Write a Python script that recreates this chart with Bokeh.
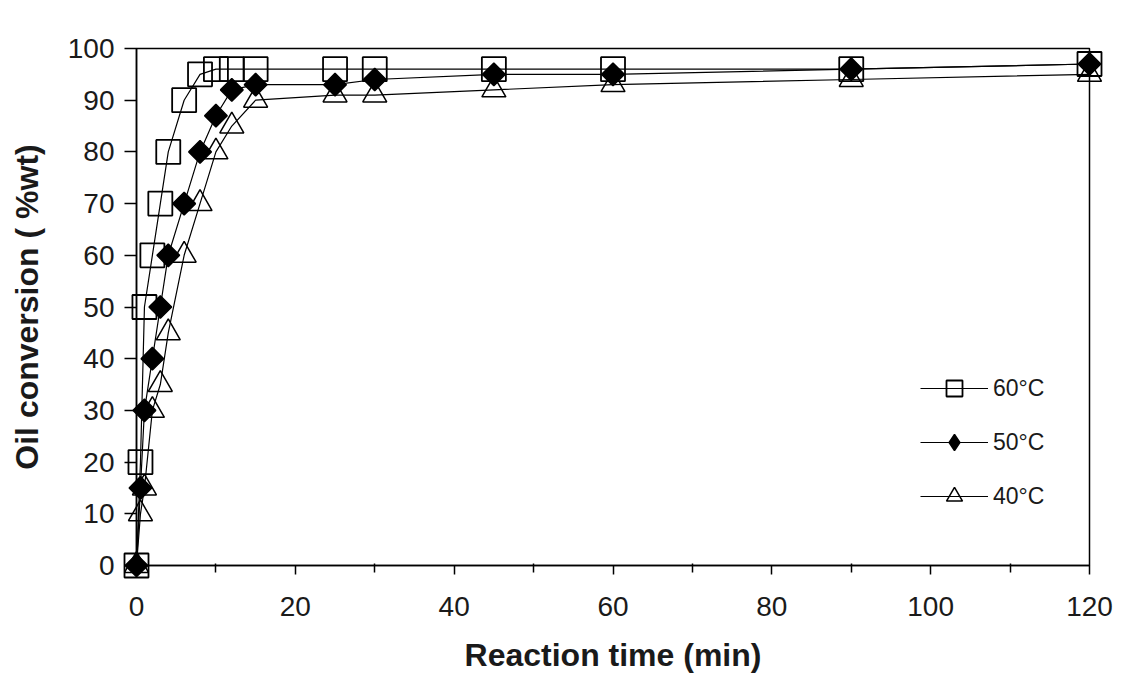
from bokeh.plotting import figure
from bokeh.models import FixedTicker, Legend, LegendItem, Range1d
from bokeh.embed import file_html
from bokeh.resources import INLINE
import numpy as np

# ---- data ----
time_min = [0, 0.5, 1, 2, 3, 4, 6, 8, 10, 12, 15, 25, 30, 45, 60, 90, 120]
conv_60 = [0, 20, 50, 60, 70, 80, 90, 95, 96, 96, 96, 96, 96, 96, 96, 96, 97]
conv_50 = [0, 15, 30, 40, 50, 60, 70, 80, 87, 92, 93, 93, 94, 95, 95, 96, 97]
conv_40 = [0, 10, 15, 30, 35, 45, 60, 70, 80, 85, 90, 91, 91, 92, 93, 94, 95]
series_labels = ["60°C", "50°C", "40°C"]
x_ticks = [0, 20, 40, 60, 80, 100, 120]
x_minor_ticks = [10, 30, 50, 70, 90, 110]
y_ticks = [0, 10, 20, 30, 40, 50, 60, 70, 80, 90, 100]

FONT = "Liberation Sans"
INK = "#1a1a1a"

p = figure(width=1121, height=675, output_backend="svg", toolbar_location=None,
           x_range=Range1d(0, 120), y_range=Range1d(0, 100),
           min_border_left=136, min_border_right=32, min_border_top=48,
           min_border_bottom=110, background_fill_color="white",
           border_fill_color="white")
p.grid.visible = False
p.outline_line_color = "black"
p.outline_line_width = 1.5

# x axis
xa = p.xaxis[0]
xa.ticker = FixedTicker(ticks=x_ticks, minor_ticks=x_minor_ticks)
xa.axis_line_color = "black"
xa.axis_line_width = 1.5
xa.major_tick_line_width = 1.5
xa.minor_tick_line_width = 1.5
xa.major_tick_in = 0
xa.major_tick_out = 9
xa.minor_tick_in = 2
xa.minor_tick_out = 7
xa.major_label_standoff = 22
xa.major_label_text_font = FONT
xa.major_label_text_font_size = "28px"
xa.major_label_text_color = INK
xa.axis_label = "Reaction time (min)"
xa.axis_label_text_font = FONT
xa.axis_label_text_font_size = "32px"
xa.axis_label_text_font_style = "bold"
xa.axis_label_text_color = INK
xa.axis_label_standoff = 18

# y axis
ya = p.yaxis[0]
ya.ticker = FixedTicker(ticks=y_ticks, minor_ticks=[])
ya.axis_line_color = "black"
ya.axis_line_width = 1.5
ya.major_tick_line_width = 1.5
ya.major_tick_in = 0
ya.major_tick_out = 12
ya.major_label_standoff = 10
ya.major_label_text_font = FONT
ya.major_label_text_font_size = "28px"
ya.major_label_text_color = INK
ya.axis_label = "Oil conversion ( %wt)"
ya.axis_label_text_font = FONT
ya.axis_label_text_font_size = "32px"
ya.axis_label_text_font_style = "bold"
ya.axis_label_text_color = INK
ya.axis_label_standoff = 20

# series
l60 = p.line(time_min, conv_60, line_color="black", line_width=1.2)
l50 = p.line(time_min, conv_50, line_color="black", line_width=1.2)
l40 = p.line(time_min, conv_40, line_color="black", line_width=1.2)

s60 = p.scatter(time_min, conv_60, marker="square", size=24, fill_color=None,
                line_color="black", line_width=1.8, level="overlay")
s50 = p.scatter(time_min, conv_50, marker="square", size=16, angle=np.pi / 4,
                fill_color="black", line_color="black", line_width=1.5,
                level="overlay")
s40 = p.scatter(time_min, conv_40, marker="triangle", size=24, fill_color=None,
                line_color="black", line_width=1.5, level="overlay")
# legend-only diamond proxy: one point placed outside the clipped frame
d50 = p.scatter(x=[-100], y=[-100], marker="diamond", size=20,
                fill_color="black", line_color="black", line_width=1.5)

legend = Legend(items=[
    LegendItem(label=series_labels[0], renderers=[l60, s60]),
    LegendItem(label=series_labels[1], renderers=[l50, d50]),
    LegendItem(label=series_labels[2], renderers=[l40, s40]),
], location=(784, 49), padding=0, spacing=14, glyph_height=40, glyph_width=68,
    label_standoff=5, label_text_font=FONT, label_text_font_size="23px",
    label_text_color=INK, border_line_color=None, background_fill_alpha=0)
p.add_layout(legend)

open("out.html", "w").write(file_html(p, INLINE))
